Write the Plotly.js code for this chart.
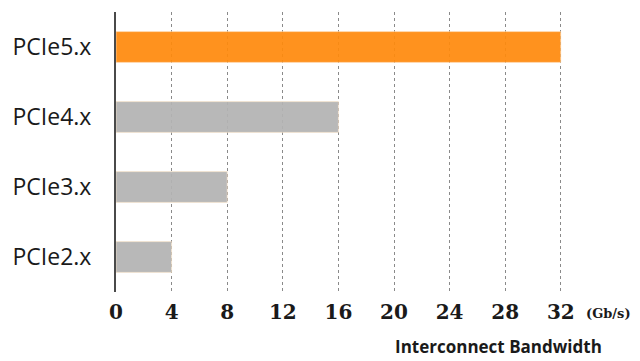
<!DOCTYPE html>
<html><head><meta charset="utf-8">
<script src="https://cdn.plot.ly/plotly-3.0.1.min.js"></script>
<style>html,body{margin:0;padding:0;background:#fff}</style>
</head><body><div id="chart" style="width:640px;height:361px"></div>
<script>
const categories = ["PCIe2.x", "PCIe3.x", "PCIe4.x", "PCIe5.x"];
const bandwidth = [4, 8, 16, 32];
const barColors = ["#b3b3b3", "#b3b3b3", "#b3b3b3", "#ff8a0d"];
const xTicks = [0, 4, 8, 12, 16, 20, 24, 28, 32];

const trace = {
  type: "bar", orientation: "h",
  y: categories, x: bandwidth,
  width: 0.44,
  marker: {color: barColors, opacity: 0.93, line: {color: "rgba(255,230,200,0.6)", width: 1}},
  hoverinfo: "none"
};
const layout = {
  width: 640, height: 361,
  margin: {l: 116, r: 75, t: 12, b: 69},
  paper_bgcolor: "#fff", plot_bgcolor: "#fff",
  showlegend: false,
  xaxis: {
    range: [0, 32.3], tickvals: xTicks, ticktext: xTicks.map(String),
    showgrid: true, gridcolor: "#8a8a8a", gridwidth: 1, griddash: "3px,3px",
    zeroline: false, showline: false,
    ticks: "outside", ticklen: 2, tickcolor: "rgba(0,0,0,0)",
    tickfont: {family: "DejaVu Serif, Liberation Serif, serif", size: 20, color: "#1a1a1a", weight: "bold"},
    fixedrange: true
  },
  yaxis: {
    showline: true, linecolor: "#4a4a4a", linewidth: 2,
    showgrid: false, zeroline: false,
    ticks: "", ticklabelstandoff: 18,
    tickfont: {family: "Open Sans, Noto Sans, sans-serif", size: 23, color: "#1a1a1a"},
    fixedrange: true
  },
  annotations: [
    {text: "(Gb/s)", xref: "paper", yref: "paper", x: 1.096, y: -0.075, xanchor: "center", yanchor: "middle",
     showarrow: false, font: {family: "DejaVu Serif, Liberation Serif, serif", size: 13, color: "#1a1a1a", weight: "bold"}},
    {text: "Interconnect Bandwidth", xref: "paper", yref: "paper", x: 0.852, y: -0.193, xanchor: "center", yanchor: "middle",
     showarrow: false, font: {family: "Open Sans, Noto Sans, sans-serif", size: 17, color: "#1a1a1a", weight: "bold"}}
  ]
};
Plotly.newPlot("chart", [trace], layout, {staticPlot: true, displayModeBar: false});
</script></body></html>
